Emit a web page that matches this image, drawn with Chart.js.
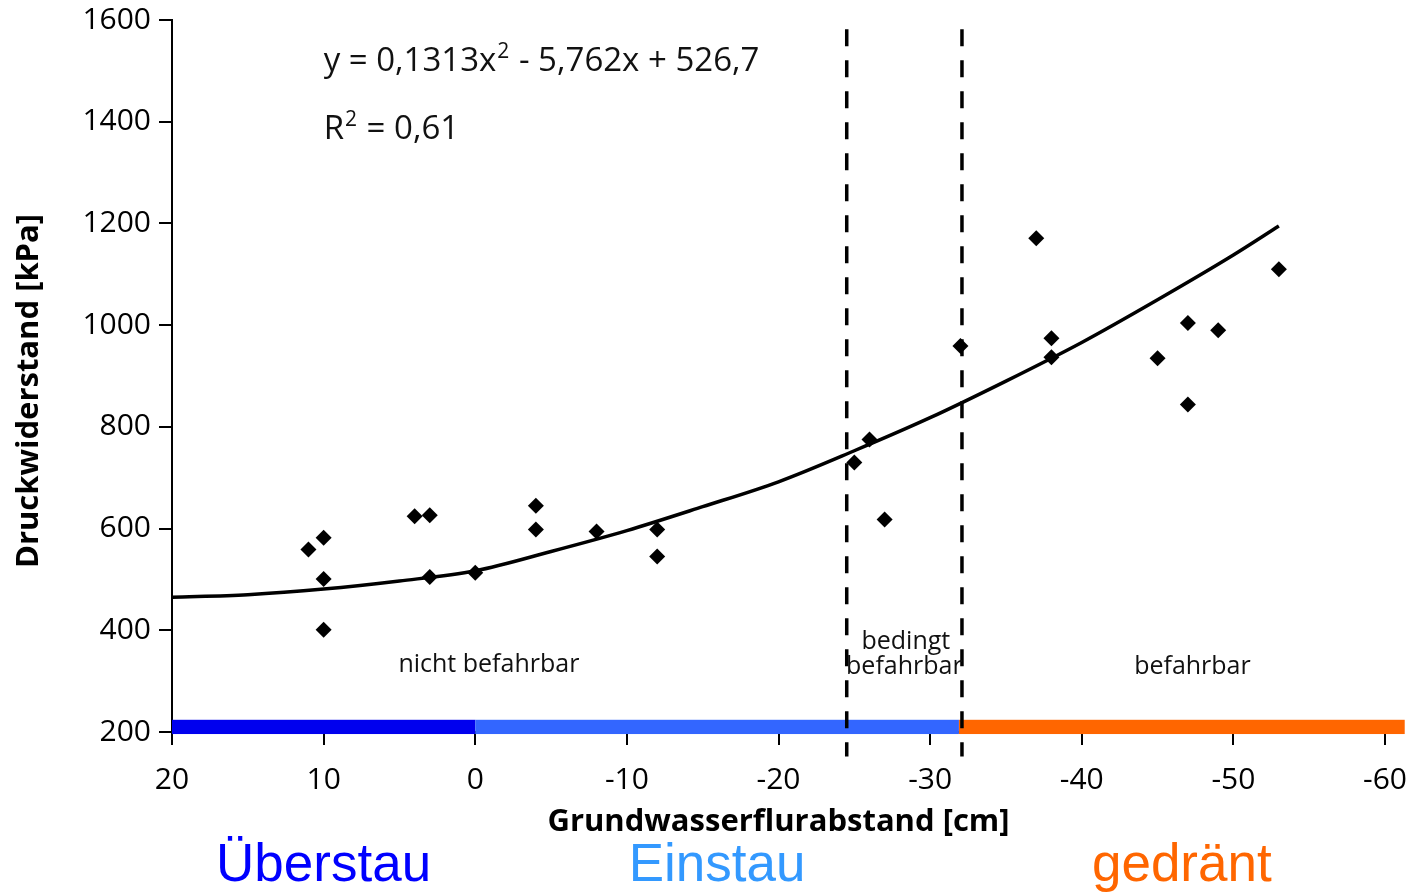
<!DOCTYPE html>
<html><head><meta charset="utf-8">
<script src="https://cdn.jsdelivr.net/npm/chart.js@4"></script>
<style>html,body{margin:0;padding:0;background:#fff;}#wrap{width:1421px;height:893px;position:relative}</style>
</head><body><div id="wrap"><canvas id="c" width="1421" height="893"></canvas></div>
<script>
// ---- data ----
const pointX = [11, 10, 10, 10, 4, 3, 3, 0, -4, -4, -8, -12, -12, -25, -26, -27, -32, -37, -38, -38, -45, -47, -47, -49, -53];
const pointY = [559, 582, 501, 401, 624, 626, 505, 513, 645, 598, 594, 598, 545, 730, 775, 618, 959, 1171, 974, 937, 935, 1004, 844, 990, 1110];
const curveX = [20, 15, 10, 5, 0, -5, -10, -15, -20, -25, -30, -35, -40, -45, -50, -53];
const curveY = [465, 470, 481, 497, 517, 555, 596, 643, 692, 753, 818, 890, 966, 1050, 1138, 1195];
const xTickValues = [20, 10, 0, -10, -20, -30, -40, -50, -60];
const yTickValues = [200, 400, 600, 800, 1000, 1200, 1400, 1600];
const boundaryX = [-24.5, -32.1];
const zoneStart = [20, 0, -31.9];
const zoneEnd = [0, -31.9, -61.3];
const zoneNames = ['Überstau', 'Einstau', 'gedränt'];
const regionLabels = ['nicht befahrbar', 'bedingt', 'befahrbar', 'befahrbar'];
const regionLabelX = [-0.9, -28.4, -28.3, -47.3];
const regionLabelY = [332, 377, 328, 328];
const equationText = ['y = 0,1313x', '2', ' - 5,762x + 526,7'];
const r2Text = ['R', '2', ' = 0,61'];
const yTitle = 'Druckwiderstand [kPa]';
const xTitle = 'Grundwasserflurabstand [cm]';

// ---- styles ----
const zoneBarColors = ['#0000ee', '#3366ff', '#ff6600'];
const zoneTextColors = ['#0000ff', '#3399ff', '#ff6600'];
const FONT = "'Open Sans', sans-serif";

const overlay = {
  id: 'overlay',
  beforeDatasetsDraw(chart) {
    const {ctx} = chart;
    const xs = chart.scales.x, ys = chart.scales.y;
    ctx.save();
    for (let i = 0; i < zoneStart.length; i++) {
      const x1 = xs.getPixelForValue(zoneStart[i]);
      const x2 = xs.getPixelForValue(zoneEnd[i]);
      const y1 = ys.getPixelForValue(224);
      const y2 = ys.getPixelForValue(196);
      ctx.fillStyle = zoneBarColors[i];
      ctx.fillRect(x1, y1, x2 - x1, y2 - y1);
    }
    ctx.strokeStyle = '#000';
    ctx.lineWidth = 3.5;
    ctx.setLineDash([17, 14]);
    for (const b of boundaryX) {
      const px = xs.getPixelForValue(b);
      ctx.beginPath();
      ctx.moveTo(px, ys.getPixelForValue(1582));
      ctx.lineTo(px, ys.getPixelForValue(152));
      ctx.stroke();
    }
    ctx.setLineDash([]);
    ctx.fillStyle = '#111';
    ctx.font = '25px ' + FONT;
    ctx.textAlign = 'center';
    ctx.textBaseline = 'middle';
    for (let i = 0; i < regionLabels.length; i++) {
      ctx.fillText(regionLabels[i], xs.getPixelForValue(regionLabelX[i]), ys.getPixelForValue(regionLabelY[i]));
    }
    const drawSup = (parts, xv, yv) => {
      let x = xs.getPixelForValue(xv);
      const y = ys.getPixelForValue(yv);
      ctx.textAlign = 'left';
      ctx.textBaseline = 'alphabetic';
      ctx.font = '33px ' + FONT;
      ctx.fillText(parts[0], x, y); x += ctx.measureText(parts[0]).width + 1;
      ctx.font = '21px ' + FONT;
      ctx.fillText(parts[1], x, y - 13); x += ctx.measureText(parts[1]).width + 1;
      ctx.font = '33px ' + FONT;
      ctx.fillText(parts[2], x, y);
    };
    drawSup(equationText, 10, 1499);
    drawSup(r2Text, 10, 1366);
    ctx.restore();
  },
  afterDraw(chart) {
    const {ctx} = chart;
    const xs = chart.scales.x;
    ctx.save();
    ctx.translate(29, 391);
    ctx.rotate(-Math.PI / 2);
    ctx.fillStyle = '#000';
    ctx.font = 'bold 31px ' + FONT;
    ctx.textAlign = 'center';
    ctx.textBaseline = 'middle';
    ctx.fillText(yTitle, 0, 0);
    ctx.restore();
    ctx.save();
    ctx.font = "53px 'Liberation Sans', Arial, sans-serif";
    ctx.textAlign = 'center';
    ctx.textBaseline = 'alphabetic';
    for (let i = 0; i < zoneNames.length; i++) {
      const cx = xs.getPixelForValue((zoneStart[i] + zoneEnd[i]) / 2);
      ctx.fillStyle = zoneTextColors[i];
      ctx.fillText(zoneNames[i], cx, 881);
    }
    ctx.restore();
  }
};

new Chart(document.getElementById('c'), {
  type: 'scatter',
  data: {
    datasets: [
      {
        type: 'line',
        data: curveX.map((x, i) => ({x, y: curveY[i]})),
        borderColor: '#000',
        borderWidth: 3.5,
        pointRadius: 0,
        cubicInterpolationMode: 'monotone',
        fill: false
      },
      {
        data: pointX.map((x, i) => ({x, y: pointY[i]})),
        pointStyle: 'rectRot',
        pointRadius: 8,
        backgroundColor: '#000',
        borderColor: '#000',
        borderWidth: 0
      }
    ]
  },
  options: {
    responsive: false,
    animation: false,
    layout: {padding: {left: 0, top: 20, right: 36, bottom: 52}},
    plugins: {legend: {display: false}, tooltip: {enabled: false}},
    scales: {
      x: {
        type: 'linear', reverse: true, min: -60, max: 20,
        afterBuildTicks: s => { s.ticks = xTickValues.map(v => ({value: v})); },
        afterFit: s => { s.height = 109; s.paddingRight = 5; s.paddingLeft = 0; },
        border: {color: '#000', width: 2},
        grid: {drawOnChartArea: false, color: '#000', lineWidth: 2, tickLength: 13},
        ticks: {color: '#000', font: {family: FONT, size: 30}, padding: 17, autoSkip: false, maxRotation: 0, callback: v => String(v)},
        title: {display: true, text: xTitle, color: '#000', font: {family: FONT, size: 31, weight: 'bold'}, padding: {top: 0, bottom: 0}}
      },
      y: {
        type: 'linear', min: 200, max: 1600,
        afterBuildTicks: s => { s.ticks = yTickValues.map(v => ({value: v})); },
        afterFit: s => { s.width = 172; s.paddingTop = 5; s.paddingBottom = 0; },
        border: {color: '#000', width: 2},
        grid: {drawOnChartArea: false, color: '#000', lineWidth: 2, tickLength: 13},
        ticks: {color: '#000', font: {family: FONT, size: 30, lineHeight: 1}, padding: 8, callback: v => String(v)},
        title: {display: false}
      }
    }
  },
  plugins: [overlay]
});
</script>
</body></html>
